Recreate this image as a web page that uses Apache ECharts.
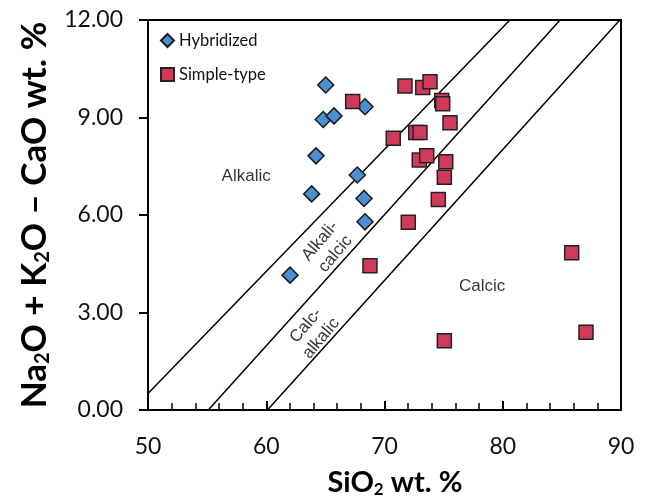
<!DOCTYPE html>
<html>
<head>
<meta charset="utf-8">
<script src="https://cdn.jsdelivr.net/npm/echarts@6/dist/echarts.min.js"></script>
<style>html,body{margin:0;padding:0;background:#fff;}#c{width:650px;height:502px;}</style>
</head>
<body>
<div id="c"></div>
<script>
// Hybridized: [SiO2, Na2O+K2O-CaO]
var hybridized = [
  [65.03, 10.00], [68.35, 9.33], [64.82, 8.94], [65.73, 9.05], [64.21, 7.82],
  [67.70, 7.23], [63.84, 6.65], [68.27, 6.51], [68.35, 5.79], [62.01, 4.15]
];
var simpleType = [
  [67.31, 9.49], [71.73, 9.97], [73.23, 9.92], [73.85, 10.10], [74.84, 9.52],
  [74.92, 9.42], [75.54, 8.84], [70.74, 8.36], [72.64, 8.54], [73.00, 8.54],
  [72.94, 7.69], [73.57, 7.82], [75.18, 7.64], [75.06, 7.16], [74.55, 6.48],
  [72.01, 5.78], [68.77, 4.44], [85.83, 4.84], [87.04, 2.39], [75.06, 2.13]
];
// Field boundary lines
var lineAlkalic = [[50, 0.51], [80.6, 12]];
var lineAlkaliCalcic = [[55.1, 0], [84.85, 12]];
var lineCalcAlkalic = [[60.1, 0], [89.9, 12]];
// Field labels: [x, y, text, rotate]
var fieldLabels = [
  [58.3, 7.2, 'Alkalic', 0],
  [78.25, 3.82, 'Calcic', 0],
  [65.2, 5.0, 'Alkali-\ncalcic', 50],
  [64.0, 2.4, 'Calc-\nalkalic', 50]
];
var xTicks = [50, 60, 70, 80, 90];
var yTicks = [0, 3, 6, 9, 12];

var chart = echarts.init(document.getElementById('c'));
function lineSeries(d) {
  return {
    type: 'line', data: d, symbol: 'none', silent: true, z: 1,
    lineStyle: {color: '#000', width: 1.5}
  };
}
var option = {
  animation: false,
  backgroundColor: '#fff',
  grid: {left: 148, right: 29, top: 20, bottom: 92, show: true, borderColor: '#000', borderWidth: 2, backgroundColor: 'transparent'},
  xAxis: {
    type: 'value', min: xTicks[0], max: xTicks[xTicks.length - 1], interval: 10,
    axisLine: {show: true, lineStyle: {color: '#000', width: 2}},
    axisTick: {show: true, inside: true, length: 9, lineStyle: {color: '#000', width: 2}},
    minorTick: {show: true, splitNumber: 5, length: 7, lineStyle: {color: '#000', width: 1.5}},
    splitLine: {show: false},
    axisLabel: {fontFamily: 'Lato', fontSize: 23, color: '#111', margin: 25}
  },
  yAxis: {
    type: 'value', min: yTicks[0], max: yTicks[yTicks.length - 1], interval: 3,
    axisLine: {show: true, lineStyle: {color: '#000', width: 2}},
    axisTick: {show: true, inside: false, length: 9, lineStyle: {color: '#000', width: 2}},
    splitLine: {show: false},
    axisLabel: {fontFamily: 'Lato', fontSize: 23, color: '#111', margin: 25,
      formatter: function (v) { return v.toFixed(2); }}
  },
  legend: {
    data: ['Hybridized', 'Simple-type'], orient: 'vertical', left: 155, top: 27,
    itemWidth: 13, itemHeight: 13, itemGap: 17,
    textStyle: {fontFamily: 'Lato', fontSize: 16.5, color: '#111'}
  },
  graphic: [
    {type: 'text', x: 35, y: 215, rotation: Math.PI / 2,
      style: {
        text: 'Na{sub|2}O + K{sub|2}O – CaO wt. %', align: 'center', verticalAlign: 'middle',
        fontFamily: 'Lato', fontWeight: 'bold', fontSize: 35, fill: '#000',
        rich: {sub: {fontFamily: 'Lato', fontWeight: 'bold', fontSize: 20, verticalAlign: 'bottom', padding: [16, 0, 0, 0]}}
      }},
    {type: 'text', x: 395, y: 483,
      style: {
        text: 'SiO{sub|2} wt. %', align: 'center', verticalAlign: 'middle',
        fontFamily: 'Lato', fontWeight: 'bold', fontSize: 29, fill: '#000',
        rich: {sub: {fontFamily: 'Lato', fontWeight: 'bold', fontSize: 17, verticalAlign: 'bottom', padding: [14, 0, 0, 0]}}
      }}
  ],
  series: [
    lineSeries(lineAlkalic), lineSeries(lineAlkaliCalcic), lineSeries(lineCalcAlkalic),
    {
      type: 'scatter', silent: true, symbolSize: 0, z: 2,
      data: fieldLabels.map(function (f) {
        return {value: [f[0], f[1]], label: {show: true, position: 'inside', formatter: f[2], rotate: f[3],
          fontFamily: 'Liberation Sans', fontSize: 17, color: '#000', align: 'center', verticalAlign: 'middle', lineHeight: 20}};
      })
    },
    {
      name: 'Hybridized', type: 'scatter', symbol: 'diamond', symbolSize: 16, z: 5, data: hybridized,
      itemStyle: {color: '#4a90d2', borderColor: '#1a1a1a', borderWidth: 1.5, opacity: 1}
    },
    {
      name: 'Simple-type', type: 'scatter', symbol: 'rect', symbolSize: 14, z: 5, data: simpleType,
      itemStyle: {color: '#cf3a5a', borderColor: '#222', borderWidth: 1.5, opacity: 1}
    }
  ]
};
chart.setOption(option);
</script>
</body>
</html>
